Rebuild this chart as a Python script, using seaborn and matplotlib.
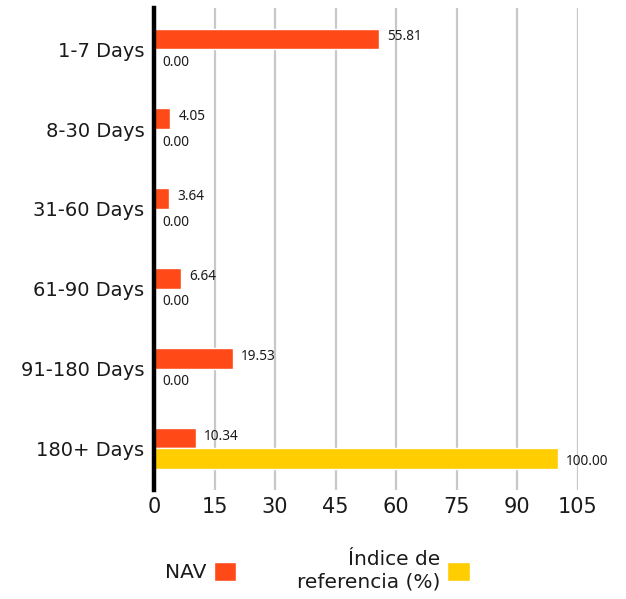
import matplotlib
matplotlib.use('Agg')
import matplotlib.pyplot as plt
import seaborn as sns
import pandas as pd

categories = ['1-7 Days', '8-30 Days', '31-60 Days', '61-90 Days', '91-180 Days', '180+ Days']
nav = [55.81, 4.05, 3.64, 6.64, 19.53, 10.34]
indice = [0.00, 0.00, 0.00, 0.00, 0.00, 100.00]
series = ['NAV', 'Índice de\nreferencia (%)']
colors = ['#ff4a17', '#ffcd00']
xticks = [0, 15, 30, 45, 60, 75, 90, 105]

df = pd.DataFrame({
    'cat': categories * 2,
    'value': nav + indice,
    'serie': [series[0]] * len(nav) + [series[1]] * len(indice),
})

sns.set_style('white')
plt.rcParams['font.family'] = ['DejaVu Sans']

fig = plt.figure(figsize=(6.26, 5.99), dpi=100)
ax = fig.add_axes([0.246, 0.182, 0.677, 0.805])

sns.barplot(data=df, x='value', y='cat', hue='serie', order=categories,
            hue_order=series, palette=colors, width=0.52, saturation=1,
            orient='h', ax=ax, legend=True)

ax.set_xlim(0, 105)
ax.set_ylim(5.52, -0.52)
ax.set_xticks(xticks)
ax.set_xlabel('')
ax.set_ylabel('')
ax.tick_params(axis='x', labelsize=15, length=0, pad=5, colors='#1a1a1a')
ax.tick_params(axis='y', labelsize=14, length=0, pad=7, colors='#1a1a1a')
ax.grid(axis='x', color='#c8c8c8', linewidth=1.6)
ax.set_axisbelow(True)
for s in ['top', 'right', 'bottom']:
    ax.spines[s].set_visible(False)
ax.spines['left'].set_color('black')
ax.spines['left'].set_linewidth(3.2)
ax.spines['left'].set_zorder(5)

# etiquetas de valores
for i, cont in enumerate(ax.containers):
    dy = 1.5 if i == 0 else -2
    for rect, v in zip(cont, [nav, indice][i]):
        ax.annotate('{:.2f}'.format(v),
                    xy=(rect.get_width(), rect.get_y() + rect.get_height() / 2),
                    xytext=(6, dy), textcoords='offset points',
                    ha='left', va='center', fontsize=9.8, color='#1a1a1a',
                    family='Noto Sans')

handles, labels = ax.get_legend_handles_labels()
ax.get_legend().remove()
leg = fig.legend(handles, labels, loc='center', bbox_to_anchor=(0.507, 0.047),
                 ncol=2, frameon=False, markerfirst=False, fontsize=14.5,
                 handlelength=1.12, handleheight=1.12, columnspacing=3.0,
                 handletextpad=0.35)
for t in leg.get_texts():
    t.set_multialignment('right')
    t.set_color('#1a1a1a')

plt.savefig('out.png', dpi=100)
